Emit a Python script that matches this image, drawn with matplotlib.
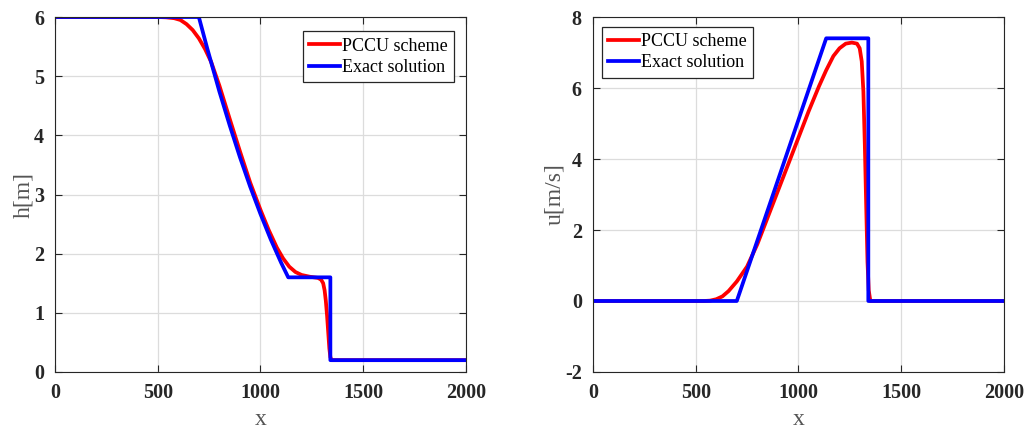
import matplotlib
matplotlib.use("Agg")
import matplotlib.pyplot as plt

# ---- data ----
x_exact_h = [0, 700, 740, 800, 850, 900, 950, 1000, 1050, 1100, 1135, 1340, 1340, 2000]
h_exact   = [6.0, 6.0, 5.48, 4.74, 4.17, 3.63, 3.13, 2.67, 2.24, 1.85, 1.60, 1.60, 0.20, 0.20]

x_pccu_h = [0, 500, 540, 580, 610, 640, 670, 700, 730, 760, 800, 850, 900, 950, 1000,
            1040, 1080, 1110, 1140, 1170, 1200, 1240, 1280, 1295, 1305, 1312, 1318,
            1324, 1330, 1335, 1340, 1346, 2000]
h_pccu   = [6.0, 6.0, 5.995, 5.98, 5.95, 5.88, 5.78, 5.64, 5.46, 5.24, 4.84, 4.28, 3.73,
            3.20, 2.74, 2.40, 2.10, 1.92, 1.78, 1.69, 1.64, 1.61, 1.59, 1.56, 1.50,
            1.38, 1.20, 0.95, 0.65, 0.40, 0.25, 0.20, 0.20]

x_exact_u = [0, 700, 1135, 1340, 1340, 2000]
u_exact   = [0.0, 0.0, 7.40, 7.40, 0.0, 0.0]

x_pccu_u = [0, 540, 570, 600, 630, 660, 700, 750, 800, 850, 900, 950, 1000, 1050,
            1100, 1135, 1170, 1200, 1230, 1260, 1285, 1298, 1308, 1316, 1323, 1330,
            1336, 1342, 1350, 2000]
u_pccu   = [0.0, 0.0, 0.01, 0.05, 0.13, 0.28, 0.55, 0.97, 1.60, 2.35, 3.10, 3.85, 4.60,
            5.35, 6.05, 6.50, 6.90, 7.12, 7.25, 7.28, 7.25, 7.12, 6.75, 5.90, 4.40,
            2.60, 1.10, 0.30, 0.0, 0.0]

labels = ["PCCU scheme", "Exact solution"]

plt.rcParams['font.family'] = ['Liberation Serif', 'DejaVu Serif']
plt.rcParams['axes.unicode_minus'] = False

fig = plt.figure(figsize=(10.28, 4.33), dpi=100)
ax1 = fig.add_axes([0.0535, 0.1409, 0.3998, 0.8198])
ax2 = fig.add_axes([0.5768, 0.1409, 0.3998, 0.8198])

red = '#ff0000'
blue = '#0000ff'
lw = 2.7

ax1.plot(x_pccu_h, h_pccu, color=red, lw=lw, label=labels[0])
ax1.plot(x_exact_h, h_exact, color=blue, lw=lw, label=labels[1])
ax2.plot(x_pccu_u, u_pccu, color=red, lw=lw, label=labels[0])
ax2.plot(x_exact_u, u_exact, color=blue, lw=lw, label=labels[1])

ax1.set_xlim(0, 2000); ax1.set_ylim(0, 6)
ax2.set_xlim(0, 2000); ax2.set_ylim(-2, 8)
ax1.set_yticks(range(0, 7))
ax2.set_yticks(range(-2, 9, 2))

for ax, yl, loc, anchor in [(ax1, 'h[m]', 'upper right', (0.97, 0.96)),
                            (ax2, 'u[m/s]', 'upper left', (0.022, 0.973))]:
    ax.set_xticks([0, 500, 1000, 1500, 2000])
    ax.grid(True, color='#dcdcdc', lw=0.9)
    ax.set_axisbelow(True)
    ax.tick_params(direction='in', top=True, right=True, length=5, width=0.8,
                   labelsize=14.5, pad=8, colors='#262626')
    for lab in ax.get_xticklabels() + ax.get_yticklabels():
        lab.set_fontweight('bold')
    for s in ax.spines.values():
        s.set_color('#262626'); s.set_linewidth(0.8)
    ax.set_xlabel('x', fontsize=17, color='#555555', labelpad=4)
    ax.set_ylabel(yl, fontsize=17, color='#555555', labelpad=0)
    leg = ax.legend(loc=loc, bbox_to_anchor=anchor, fontsize=13, fancybox=False,
                    framealpha=1, edgecolor='#262626', handlelength=1.7,
                    handletextpad=0.1, borderpad=0.35, labelspacing=0.25, borderaxespad=0)
    leg.get_frame().set_linewidth(0.9)

fig.savefig('out.png', dpi=100)
